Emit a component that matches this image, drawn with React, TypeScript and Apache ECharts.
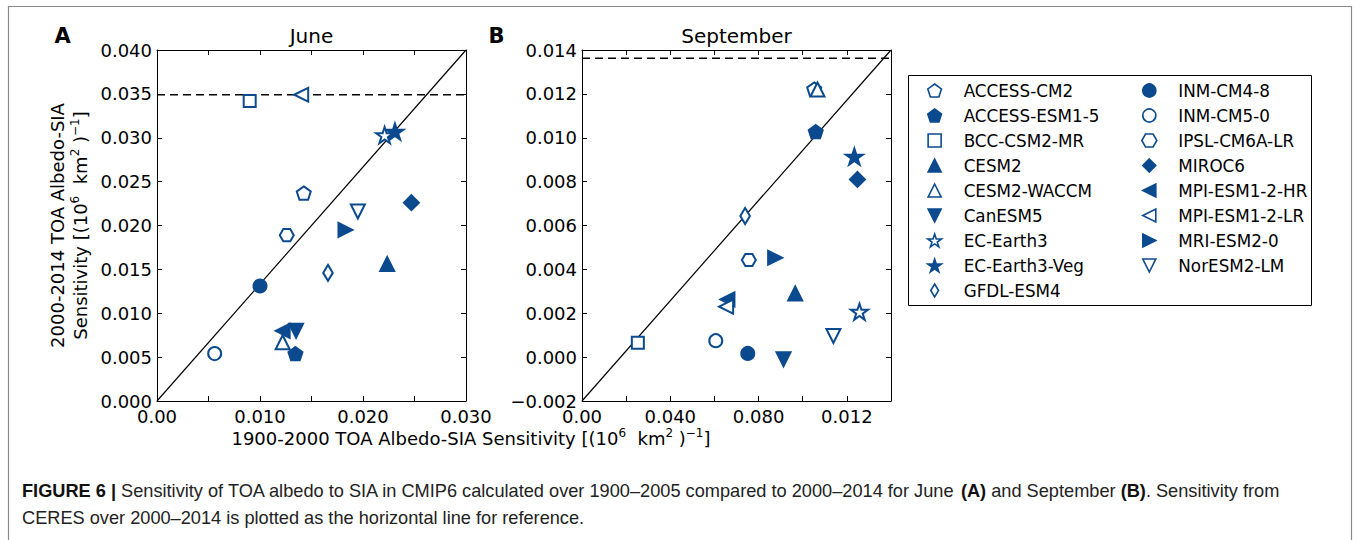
import React, { useEffect, useRef } from 'react';
import * as echarts from 'echarts';

// ---------------- data ----------------
const models = [
  'ACCESS-CM2', 'ACCESS-ESM1-5', 'BCC-CSM2-MR', 'CESM2', 'CESM2-WACCM', 'CanESM5',
  'EC-Earth3', 'EC-Earth3-Veg', 'GFDL-ESM4', 'INM-CM4-8', 'INM-CM5-0', 'IPSL-CM6A-LR',
  'MIROC6', 'MPI-ESM1-2-HR', 'MPI-ESM1-2-LR', 'MRI-ESM2-0', 'NorESM2-LM',
];
// June (panel A)
const juneX = [0.01425, 0.01344, 0.0090, 0.02235, 0.0122, 0.0135, 0.0221, 0.0231, 0.0166, 0.0100, 0.0056, 0.0126, 0.0247, 0.0122, 0.0140, 0.0183, 0.0195];
const juneY = [0.0237, 0.0054, 0.0342, 0.0156, 0.0067, 0.0080, 0.0303, 0.0307, 0.0146, 0.0131, 0.0054, 0.0189, 0.0226, 0.0080, 0.0349, 0.0195, 0.0216];
// September (panel B)
const septX = [0.01052, 0.01059, 0.00253, 0.00966, 0.01067, 0.00913, 0.01257, 0.01234, 0.00739, 0.00751, 0.00606, 0.00756, 0.01248, 0.00659, 0.00653, 0.00875, 0.01139];
const septY = [0.01222, 0.01028, 0.00066, 0.0029, 0.0122, -0.0001, 0.00207, 0.00914, 0.00643, 0.00017, 0.00075, 0.00443, 0.0081, 0.00263, 0.0023, 0.00453, 0.00096];
// CERES reference sensitivity
const ceresJune = 0.0349;
const ceresSept = 0.01362;

// tick labels
const juneXTickLabels = ['0.00', '', '0.010', '', '0.020', '', '0.030'];
const juneYTickLabels = ['0.000', '0.005', '0.010', '0.015', '0.020', '0.025', '0.030', '0.035', '0.040'];
const septXTickLabels = ['0.00', '', '0.040', '', '0.080', '', '0.012', ''];
const septYTickLabels = ['\u22120.002', '0.000', '0.002', '0.004', '0.006', '0.008', '0.010', '0.012', '0.014'];

// marker styles per model
const markerShape = ['pentagon', 'pentagon', 'square', 'triUp', 'triUp', 'triDown', 'star', 'star', 'thinDiamond', 'circle', 'circle', 'hexagon', 'diamond', 'triLeft', 'triLeft', 'triRight', 'triDown'];
const markerFilled = [false, true, false, true, false, true, false, true, false, true, false, false, true, true, false, true, false];

const SHAPES: Record<string, string> = {
  pentagon: 'path://M0,-1L0.951,-0.309L0.588,0.809L-0.588,0.809L-0.951,-0.309Z',
  square: 'path://M-1,-1L1,-1L1,1L-1,1Z',
  triUp: 'path://M0,-1L1,1L-1,1Z',
  triDown: 'path://M-1,-1L1,-1L0,1Z',
  triLeft: 'path://M-1,0L1,-1L1,1Z',
  triRight: 'path://M1,0L-1,1L-1,-1Z',
  star: 'path://M0,-1L0.2245,-0.309L0.951,-0.309L0.363,0.118L0.588,0.809L0,0.382L-0.588,0.809L-0.363,0.118L-0.951,-0.309L-0.2245,-0.309Z',
  thinDiamond: 'path://M0,-1L0.6,0L0,1L-0.6,0Z',
  diamond: 'path://M0,-1L1,0L0,1L-1,0Z',
  hexagon: 'path://M1,0L0.5,0.866L-0.5,0.866L-1,0L-0.5,-0.866L0.5,-0.866Z',
  circle: 'circle',
};
const SIZES: Record<string, number> = {
  pentagon: 14, square: 12, triUp: 14, triDown: 14, triLeft: 14, triRight: 14,
  star: 17, thinDiamond: 16, diamond: 15, hexagon: 14, circle: 13,
};

const BLUE = '#0b4a8e';
const FONT = '"DejaVu Sans", sans-serif';
const CAP_FONT = '"Liberation Sans", Arial, sans-serif';

function axis(extra: any) {
  return {
    type: 'value',
    axisLine: { show: true, onZero: false, lineStyle: { color: '#000', width: 1 } },
    axisTick: { show: true, inside: true, length: 5, lineStyle: { color: '#000', width: 1 } },
    splitLine: { show: false },
    axisLabel: { show: false },
    ...extra,
  };
}

function label(fmt: (v: number) => string, margin: number) {
  return { show: true, color: '#000', fontSize: 18, lineHeight: 14, fontFamily: FONT, margin, formatter: fmt, hideOverlap: false };
}

const supRich = {
  sup: { fontSize: 12, fontFamily: FONT, fill: '#000', verticalAlign: 'top', lineHeight: 12 },
};

function styleFor(i: number, bw: number) {
  return markerFilled[i]
    ? { color: BLUE, borderColor: BLUE, borderWidth: bw, opacity: 1 }
    : { color: '#ffffff', borderColor: BLUE, borderWidth: bw, opacity: 1 };
}

export default function App() {
  const ref = useRef<HTMLDivElement>(null);
  useEffect(() => {
    if (!ref.current) return;
    const chart = echarts.init(ref.current, undefined, { renderer: 'svg' });

    const series: any[] = [];
    // reference lines
    series.push({ type: 'line', xAxisIndex: 0, yAxisIndex: 0, data: [[0, 0], [0.03, 0.04]], symbol: 'none', silent: true, z: 1, lineStyle: { color: '#000', width: 1.2 } });
    series.push({ type: 'line', xAxisIndex: 0, yAxisIndex: 0, data: [[0, ceresJune], [0.03, ceresJune]], symbol: 'none', silent: true, z: 1, lineStyle: { color: '#000', width: 1.5, type: [8, 5] } });
    series.push({ type: 'line', xAxisIndex: 2, yAxisIndex: 2, data: [[0, -0.002], [0.014, 0.014]], symbol: 'none', silent: true, z: 1, lineStyle: { color: '#000', width: 1.2 } });
    series.push({ type: 'line', xAxisIndex: 2, yAxisIndex: 2, data: [[0, ceresSept], [0.014, ceresSept]], symbol: 'none', silent: true, z: 1, lineStyle: { color: '#000', width: 1.5, type: [8, 5] } });

    models.forEach((m, i) => {
      const shape = markerShape[i];
      const common = {
        type: 'scatter',
        name: m,
        symbol: SHAPES[shape],
        symbolSize: SIZES[shape],
        symbolKeepAspect: true,
        z: 3,
        emphasis: { disabled: true },
        itemStyle: styleFor(i, 2),
      };
      series.push({ ...common, xAxisIndex: 0, yAxisIndex: 0, data: [[juneX[i], juneY[i]]] });
      series.push({ ...common, xAxisIndex: 2, yAxisIndex: 2, data: [[septX[i], septY[i]]] });
    });

    const legendItem = (i: number) => ({
      name: models[i],
      icon: SHAPES[markerShape[i]],
      itemStyle: styleFor(i, 1.6),
    });

    const legendCommon = {
      orient: 'vertical',
      top: 82,
      padding: 0,
      itemWidth: 48,
      itemHeight: 13,
      itemGap: 8,
      selectedMode: false,
      symbolKeepAspect: true,
      textStyle: { fontSize: 16.8, fontFamily: FONT, color: '#000', lineHeight: 16 },
    };

    const option: any = {
      animation: false,
      backgroundColor: '#fff',
      grid: [
        { left: 157, top: 50, width: 309, height: 351 },
        { left: 582, top: 50, width: 309, height: 351 },
      ],
      xAxis: [
        axis({ gridIndex: 0, position: 'bottom', min: 0, max: 0.03, interval: 0.005,
          axisLabel: label((v: number) => juneXTickLabels[Math.round(v / 0.005)] ?? '', 8) }),
        axis({ gridIndex: 0, position: 'top', min: 0, max: 0.03, interval: 0.005 }),
        axis({ gridIndex: 1, position: 'bottom', min: 0, max: 0.014, interval: 0.002,
          axisLabel: label((v: number) => septXTickLabels[Math.round(v / 0.002)] ?? '', 8) }),
        axis({ gridIndex: 1, position: 'top', min: 0, max: 0.014, interval: 0.002 }),
      ],
      yAxis: [
        axis({ gridIndex: 0, position: 'left', min: 0, max: 0.04, interval: 0.005,
          axisLabel: label((v: number) => juneYTickLabels[Math.round(v / 0.005)] ?? '', 5) }),
        axis({ gridIndex: 0, position: 'right', min: 0, max: 0.04, interval: 0.005 }),
        axis({ gridIndex: 1, position: 'left', min: -0.002, max: 0.014, interval: 0.002,
          axisLabel: label((v: number) => septYTickLabels[Math.round((v + 0.002) / 0.002)] ?? '', 5) }),
        axis({ gridIndex: 1, position: 'right', min: -0.002, max: 0.014, interval: 0.002 }),
      ],
      legend: [
        { ...legendCommon, left: 927, data: [0, 1, 2, 3, 4, 5, 6, 7, 8].map(legendItem) },
        { ...legendCommon, left: 1141, data: [9, 10, 11, 12, 13, 14, 15, 16].map(legendItem) },
      ],
      graphic: [
        // figure frame
        { type: 'rect', silent: true, z: -10, shape: { x: 8.5, y: 6.5, width: 1343, height: 620 },
          style: { fill: 'none', stroke: '#8a8a8a', lineWidth: 1.2 } },
        // legend frame
        { type: 'rect', silent: true, shape: { x: 908.5, y: 75.5, width: 403, height: 230 },
          style: { fill: 'none', stroke: '#000', lineWidth: 1 } },
        // panel letters and titles
        { type: 'text', x: 62.5, y: 36, style: { text: 'A', fontSize: 21, fontWeight: 'bold', fontFamily: FONT, fill: '#000', align: 'center', verticalAlign: 'middle' } },
        { type: 'text', x: 496.5, y: 36, style: { text: 'B', fontSize: 21, fontWeight: 'bold', fontFamily: FONT, fill: '#000', align: 'center', verticalAlign: 'middle' } },
        { type: 'text', x: 311.5, y: 36, style: { text: 'June', fontSize: 20, fontFamily: FONT, fill: '#000', align: 'center', verticalAlign: 'middle' } },
        { type: 'text', x: 736.5, y: 36, style: { text: 'September', fontSize: 20, fontFamily: FONT, fill: '#000', align: 'center', verticalAlign: 'middle' } },
        // y-axis label (two lines)
        { type: 'text', x: 57, y: 225.5, rotation: Math.PI / 2, style: { text: '2000-2014 TOA Albedo-SIA', fontSize: 18, fontFamily: FONT, fill: '#000', align: 'center', verticalAlign: 'middle' } },
        { type: 'text', x: 80, y: 225.5, rotation: Math.PI / 2, style: {
          text: 'Sensitivity [(10{sup|6}  km{sup|2} ){sup|\u22121}]', fontSize: 18, fontFamily: FONT, fill: '#000', align: 'center', verticalAlign: 'middle', lineHeight: 22, rich: supRich } },
        // x-axis label
        { type: 'text', x: 471, y: 438, style: {
          text: '1900-2000 TOA Albedo-SIA Sensitivity [(10{sup|6}  km{sup|2} ){sup|\u22121}]', fontSize: 18, fontFamily: FONT, fill: '#000', align: 'center', verticalAlign: 'middle', lineHeight: 22, rich: supRich } },
        // caption
        { type: 'text', x: 22, y: 477.5, style: {
          text: '{b|FIGURE 6 |} Sensitivity of TOA albedo to SIA in CMIP6 calculated over 1900\u20132005 compared to 2000\u20132014 for June{b| (A)} and September {b|(B)}. Sensitivity from\nCERES over 2000\u20132014 is plotted as the horizontal line for reference.',
          fontSize: 18.2, fontFamily: CAP_FONT, fill: '#222', align: 'left', verticalAlign: 'top', lineHeight: 27,
          rich: { b: { fontSize: 18.2, fontFamily: CAP_FONT, fontWeight: 'bold', fill: '#111', lineHeight: 27 } } } },
      ],
      series,
    };
    chart.setOption(option);
    return () => chart.dispose();
  }, []);

  return (
    <div ref={ref} style={{ position: 'fixed', left: 0, top: 0, width: 1354, height: 540, background: '#fff', overflow: 'hidden' }} />
  );
}
